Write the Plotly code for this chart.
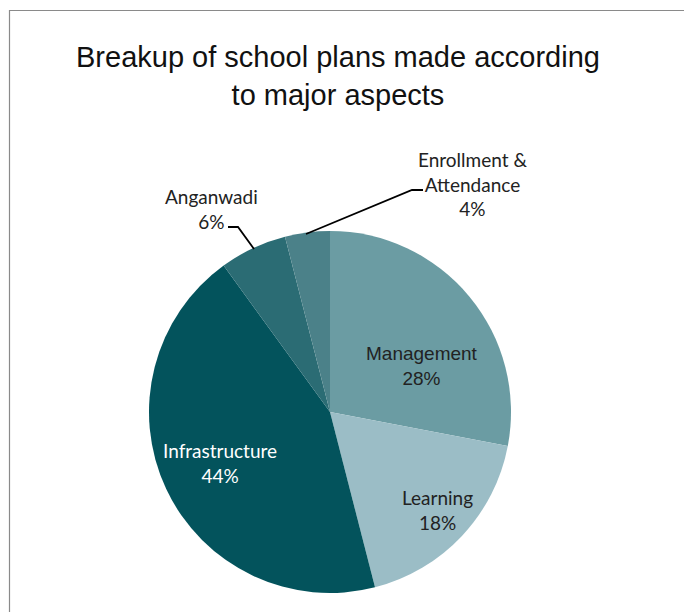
import plotly.graph_objects as go

W, H = 692, 612
OFF = 8  # page body margin

categories = ["Management", "Learning", "Infrastructure", "Anganwadi", "Enrollment & Attendance"]
values = [28, 18, 44, 6, 4]
colors = ["#6b9ca3", "#9bbdc6", "#03535c", "#2b6c74", "#4b8189"]
label_texts = ["Management<br>28%", "Learning<br>18%", "Infrastructure<br>44%",
               "Anganwadi<br>6%", "Enrollment &<br>Attendance<br>4%"]
label_colors = ["#222222", "#222222", "#ffffff", "#222222", "#222222"]
label_pos_px = [(422, 366), (437, 510), (220, 463), (211, 209), (472, 184)]
label_fonts = ["Liberation Sans", "Lato", "Lato", "Lato", "Lato"]
label_sizes = [19, 19, 19, 19, 19]


def px(x):
    return (x - OFF) / W


def py(y):
    return 1 - (y - OFF) / H


cx, cy, r = 330, 412, 181

fig = go.Figure(go.Pie(
    labels=categories,
    values=values,
    sort=False,
    direction="clockwise",
    rotation=0,
    marker=dict(colors=colors, line=dict(width=0)),
    textinfo="none",
    hoverinfo="label+percent",
    showlegend=False,
    domain=dict(x=[px(cx - r), px(cx + r)], y=[py(cy + r), py(cy - r)]),
))

annotations = [dict(
    text="Breakup of school plans made according<br>to major aspects",
    x=px(338), y=py(76), xref="paper", yref="paper",
    xanchor="center", yanchor="middle", showarrow=False,
    font=dict(family="Liberation Sans", size=29, color="#111111"),
)]
for t, c, (x, y), f, s in zip(label_texts, label_colors, label_pos_px, label_fonts, label_sizes):
    annotations.append(dict(
        text=t, x=px(x), y=py(y), xref="paper", yref="paper",
        xanchor="center", yanchor="middle", showarrow=False,
        font=dict(family=f, size=s, color=c),
    ))


def path(points):
    return "M " + " L ".join(f"{px(x)},{py(y)}" for x, y in points)


shapes = [
    dict(type="rect", xref="paper", yref="paper",
         x0=px(9.5), x1=px(688.5), y0=py(640), y1=py(10.5),
         line=dict(color="#8a8a8a", width=1.2), fillcolor="rgba(0,0,0,0)"),
    dict(type="path", xref="paper", yref="paper",
         path=path([(228, 227), (238, 227), (254, 249)]),
         line=dict(color="#000000", width=1.8)),
    dict(type="path", xref="paper", yref="paper",
         path=path([(423, 190), (412, 190), (306, 234)]),
         line=dict(color="#000000", width=1.8)),
]

fig.update_layout(
    width=W, height=H,
    margin=dict(l=0, r=0, t=0, b=0),
    paper_bgcolor="white", plot_bgcolor="white",
    annotations=annotations,
    shapes=shapes,
)

fig.write_html("out.html")
